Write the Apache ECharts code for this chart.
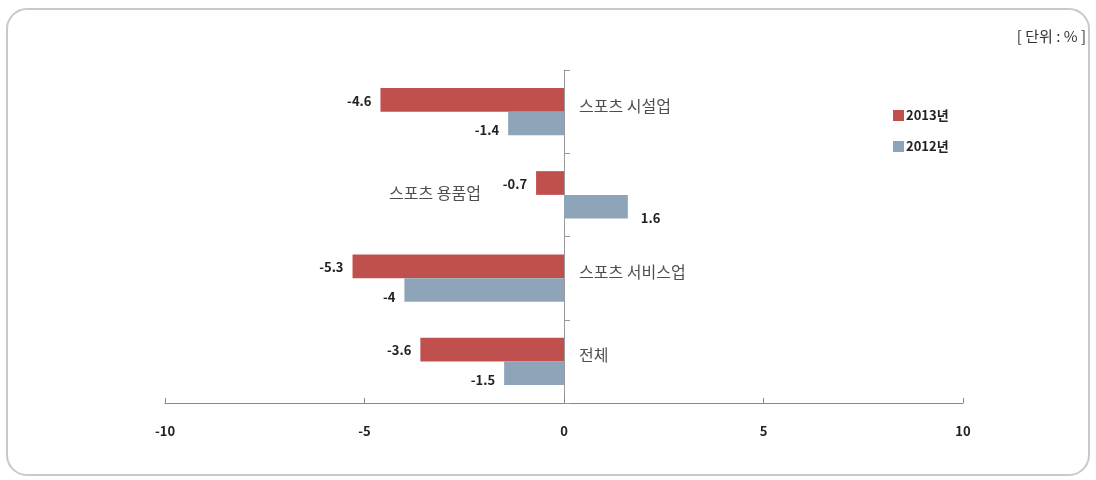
<!DOCTYPE html>
<html>
<head>
<meta charset="utf-8">
<script src="https://cdn.jsdelivr.net/npm/echarts@6/dist/echarts.min.js"></script>
<style>
html,body{margin:0;padding:0;background:#fff;}
#main{width:1096px;height:480px;}
</style>
</head>
<body>
<div id="main"></div>
<script>
const categories = ['스포츠 시설업', '스포츠 용품업', '스포츠 서비스업', '전체'];
const series2013 = [-4.6, -0.7, -5.3, -3.6];
const series2012 = [-1.4, 1.6, -4, -1.5];
const xTicks = [-10, -5, 0, 5, 10];
const legendNames = ['2013년', '2012년'];
const unitText = '[ 단위 : % ]';

const FONT = '"Noto Sans CJK KR", "Noto Sans", sans-serif';
const numLabel = {
  show: true, fontFamily: FONT, fontWeight: 'bold', fontSize: 13, color: '#222', distance: 9
};
function mk(arr, dy) {
  return arr.map(v => ({
    value: v,
    label: { position: v < 0 ? 'left' : 'right', offset: v < 0 ? [0, dy] : [4, dy + 4] }
  }));
}
// category name label positions (next to the zero axis)
const catLabelPos = categories.map((c, i) => series2013[i] < 0 && series2012[i] < 0 ? 'right' : 'left');

const chart = echarts.init(document.getElementById('main'), null, { renderer: 'canvas' });
chart.setOption({
  animation: false,
  backgroundColor: '#fff',
  graphic: [{
    type: 'rect', shape: { x: 7, y: 9, width: 1082, height: 466, r: 20 },
    style: { fill: 'none', stroke: '#c9c9c9', lineWidth: 2 }, z: -1
  }, {
    type: 'text', right: 10, top: 29,
    style: { text: unitText, font: '15px ' + FONT, fill: '#333' }
  }],
  legend: {
    orient: 'vertical', left: 888, top: 104, itemWidth: 11, itemHeight: 11, itemGap: 18,
    icon: 'rect', data: legendNames,
    textStyle: { fontFamily: FONT, fontWeight: 'bold', fontSize: 13, color: '#222', padding: [0, 0, 0, -3] }
  },
  grid: { left: 165, right: 133, top: 70, bottom: 77, containLabel: false },
  xAxis: {
    type: 'value', min: -10, max: 10, interval: 5,
    axisLine: { show: true, lineStyle: { color: '#888', width: 1 } },
    axisTick: { show: true, inside: true, length: 5, lineStyle: { color: '#888' } },
    splitLine: { show: false },
    axisLabel: {
      margin: 22, fontFamily: FONT, fontWeight: 'bold', fontSize: 13, color: '#222',
      formatter: v => xTicks.includes(v) ? String(v) : ''
    }
  },
  yAxis: {
    type: 'category', data: categories, inverse: true,
    axisLine: { show: true, onZero: true, lineStyle: { color: '#999', width: 1 } },
    axisTick: { show: true, inside: true, length: 6, lineStyle: { color: '#999' } },
    axisLabel: { show: false },
    splitLine: { show: false }
  },
  series: [{
    name: legendNames[0], type: 'bar', data: mk(series2013, 1),
    itemStyle: { color: '#C0504D' }, barGap: '0%', barCategoryGap: '43%',
    label: numLabel
  }, {
    name: legendNames[1], type: 'bar', data: mk(series2012, 7),
    itemStyle: { color: '#8EA4B8' },
    label: numLabel
  }, {
    name: 'cat', type: 'scatter', symbolSize: 0, silent: true,
    data: categories.map((c, i) => ({
      value: [0, c],
      label: {
        show: true, formatter: c,
        position: catLabelPos[i],
        offset: catLabelPos[i] === 'right' ? [10, -6] : [-78, -2]
      }
    })),
    label: { fontFamily: FONT, fontSize: 16, color: '#222' },
    z: 5
  }]
});
</script>
</body>
</html>
